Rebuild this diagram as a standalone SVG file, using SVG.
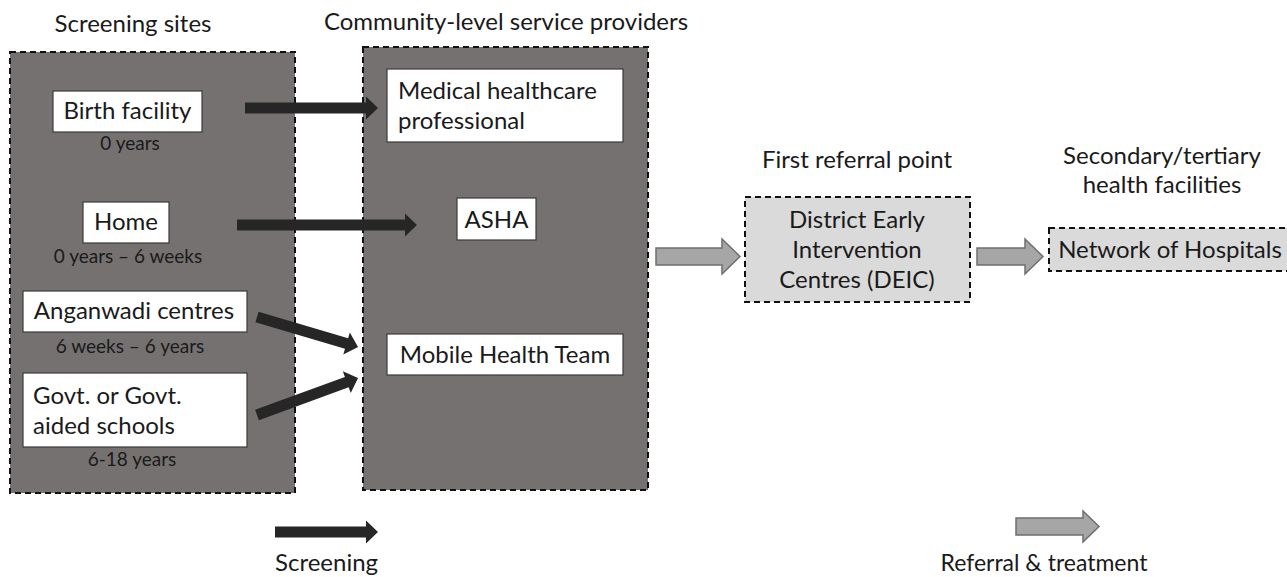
<svg xmlns="http://www.w3.org/2000/svg" width="1287" height="577" viewBox="0 0 1287 577">
  <style>
    text { font-family: Lato, "Liberation Sans", sans-serif; fill: #1a1a1a; }
    .title { font-size: 24px; }
    .lbl { font-size: 24px; }
    .age { font-size: 19px; }
    .mid { text-anchor: middle; }
    .panel { fill: #767171; stroke: #111; stroke-width: 2; stroke-dasharray: 6 4; }
    .light { fill: #dadada; stroke: #111; stroke-width: 2; stroke-dasharray: 6 4; }
    .box { fill: #ffffff; stroke: #3a3a3a; stroke-width: 1.2; }
    .dark { fill: #262626; }
    .grey { fill: #a6a6a6; stroke: #6f6f6f; stroke-width: 1.5; }
  </style>

  <rect width="1287" height="577" fill="#ffffff"/>

  <!-- column headings -->
  <text class="title mid" x="133" y="32">Screening sites</text>
  <text class="title mid" x="506" y="30">Community-level service providers</text>
  <text class="title mid" x="857" y="168">First referral point</text>
  <text class="title mid" x="1162" y="164">Secondary/tertiary</text>
  <text class="title mid" x="1162" y="193">health facilities</text>

  <!-- screening sites panel -->
  <g id="screening-sites">
    <rect class="panel" x="10" y="52" width="285" height="441"/>
    <g id="birth-facility">
      <rect class="box" x="53" y="91" width="149" height="41"/>
      <text class="lbl mid" x="127.5" y="119">Birth facility</text>
      <text class="age mid" x="130" y="150">0 years</text>
    </g>
    <g id="home">
      <rect class="box" x="83" y="202" width="86" height="41"/>
      <text class="lbl mid" x="126" y="230">Home</text>
      <text class="age mid" x="128" y="263">0 years – 6 weeks</text>
    </g>
    <g id="anganwadi">
      <rect class="box" x="23" y="291" width="224" height="41"/>
      <text class="lbl mid" x="134" y="319">Anganwadi centres</text>
      <text class="age mid" x="130" y="353">6 weeks – 6 years</text>
    </g>
    <g id="schools">
      <rect class="box" x="23" y="373" width="224" height="74"/>
      <text class="lbl" x="33" y="404">Govt. or Govt.</text>
      <text class="lbl" x="33" y="434">aided schools</text>
      <text class="age mid" x="132" y="466">6-18 years</text>
    </g>
  </g>

  <!-- community-level service providers panel -->
  <g id="service-providers">
    <rect class="panel" x="363" y="47" width="285" height="443"/>
    <g id="medical-professional">
      <rect class="box" x="387" y="69" width="236" height="73"/>
      <text class="lbl" x="398" y="99">Medical healthcare</text>
      <text class="lbl" x="398" y="129">professional</text>
    </g>
    <g id="asha">
      <rect class="box" x="457" y="198" width="79" height="42"/>
      <text class="lbl mid" x="496.5" y="228">ASHA</text>
    </g>
    <g id="mobile-team">
      <rect class="box" x="387" y="334" width="236" height="41"/>
      <text class="lbl mid" x="505" y="363">Mobile Health Team</text>
    </g>
  </g>

  <!-- first referral point -->
  <g id="deic">
    <rect class="light" x="745" y="197" width="225" height="105"/>
    <text class="lbl mid" x="857" y="228">District Early</text>
    <text class="lbl mid" x="857" y="258">Intervention</text>
    <text class="lbl mid" x="857" y="288">Centres (DEIC)</text>
  </g>

  <!-- secondary / tertiary facilities -->
  <g id="hospitals">
    <rect class="light" x="1049" y="228" width="250" height="43"/>
    <text class="lbl mid" x="1170" y="258">Network of Hospitals</text>
  </g>

  <!-- connectors -->
  <g id="connectors">
    <path class="dark" d="M245,102.5 H366 V96.5 L378,108 L366,119.5 V113.5 H245 Z"/>
    <path class="dark" d="M237,219.5 H405 V213.5 L417,225 L405,236.5 V230.5 H237 Z"/>
    <g transform="translate(257,317) rotate(16.5)">
      <path class="dark" d="M0,-5.5 H93.4 V-11.5 L105.4,0 L93.4,11.5 V5.5 H0 Z"/>
    </g>
    <g transform="translate(257,415) rotate(-20.1)">
      <path class="dark" d="M0,-5.5 H95.6 V-11.5 L107.6,0 L95.6,11.5 V5.5 H0 Z"/>
    </g>
    <path class="grey" d="M656,248 H722 V239 L740,256.5 L722,274 V265 H656 Z"/>
    <path class="grey" d="M977,248 H1025 V239 L1043,256.5 L1025,274 V265 H977 Z"/>
  </g>

  <!-- legend -->
  <g id="legend">
    <path class="dark" d="M275,526.5 H366 V520.5 L378,532 L366,543.5 V537.5 H275 Z"/>
    <text class="title" x="275" y="571">Screening</text>
    <path class="grey" d="M1016,518 H1083 V511 L1099,526.5 L1083,542 V535 H1016 Z"/>
    <text class="mid" x="1044" y="571" font-size="23">Referral &amp; treatment</text>
  </g>
</svg>
